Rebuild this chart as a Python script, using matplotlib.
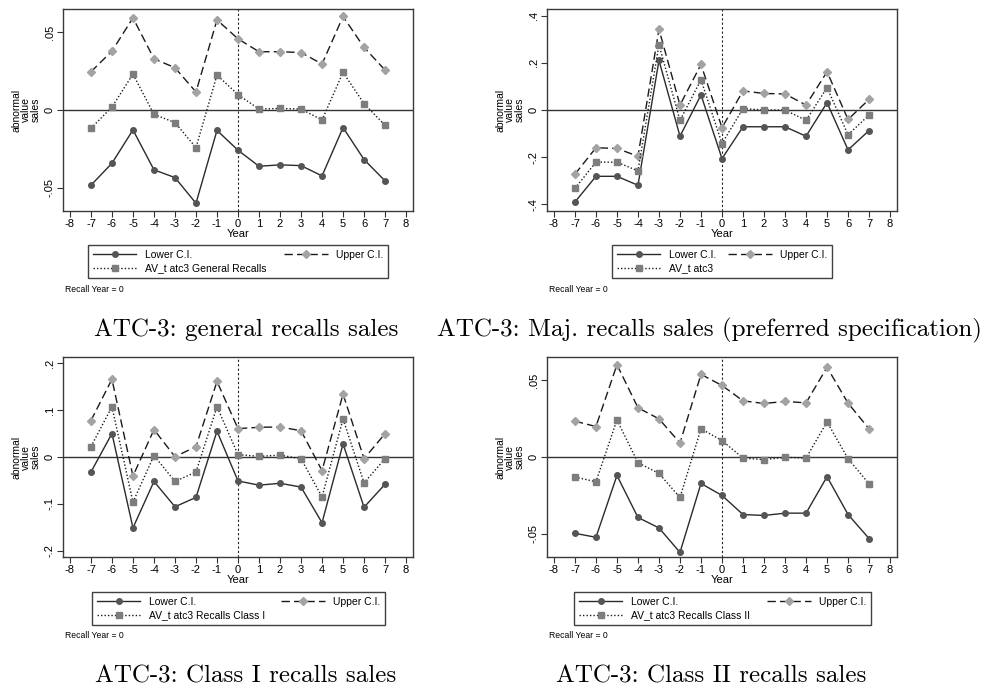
import matplotlib
matplotlib.use('Agg')
import matplotlib.pyplot as plt

# Event-time axis
years = list(range(-7, 8))

# ATC-3 general recalls
gen_lower = [-0.0484, -0.0343, -0.0128, -0.0385, -0.0435, -0.0600, -0.0131, -0.0259,
             -0.0362, -0.0353, -0.0358, -0.0424, -0.0113, -0.0319, -0.0456]
gen_upper = [0.0246, 0.0379, 0.0593, 0.0330, 0.0272, 0.0116, 0.0580, 0.0458,
             0.0375, 0.0375, 0.0370, 0.0296, 0.0602, 0.0403, 0.0257]
gen_av = [-0.0118, 0.0019, 0.0231, -0.0028, -0.0081, -0.0242, 0.0225, 0.0099,
          0.0006, 0.0010, 0.0006, -0.0064, 0.0242, 0.0041, -0.0099]

# ATC-3 major recalls
maj_lower = [-0.390, -0.281, -0.281, -0.319, 0.210, -0.111, 0.064, -0.206,
             -0.071, -0.071, -0.071, -0.111, 0.031, -0.169, -0.087]
maj_upper = [-0.272, -0.160, -0.163, -0.196, 0.342, 0.021, 0.193, -0.075,
             0.081, 0.070, 0.068, 0.021, 0.162, -0.040, 0.045]
maj_av = [-0.332, -0.221, -0.221, -0.258, 0.277, -0.044, 0.128, -0.142,
          0.006, 0.000, 0.000, -0.044, 0.095, -0.105, -0.021]

# ATC-3 class I recalls
c1_lower = [-0.032, 0.050, -0.151, -0.052, -0.106, -0.086, 0.055, -0.051,
            -0.060, -0.056, -0.064, -0.140, 0.028, -0.107, -0.058]
c1_upper = [0.0775, 0.1656, -0.0405, 0.0583, 0.0007, 0.022, 0.161, 0.0604,
            0.0633, 0.064, 0.056, -0.029, 0.134, -0.0036, 0.0498]
c1_av = [0.022, 0.107, -0.096, 0.003, -0.052, -0.032, 0.107, 0.005,
         0.0014, 0.004, -0.0036, -0.085, 0.081, -0.055, -0.0036]

# ATC-3 class II recalls
c2_lower = [-0.0496, -0.0522, -0.0120, -0.0393, -0.0461, -0.0620, -0.0172, -0.0250,
            -0.0374, -0.0380, -0.0365, -0.0365, -0.0128, -0.0374, -0.0530]
c2_upper = [0.0233, 0.0198, 0.0600, 0.0320, 0.0248, 0.0091, 0.0537, 0.0465,
            0.0365, 0.0348, 0.0361, 0.0352, 0.0583, 0.0350, 0.0183]
c2_av = [-0.0130, -0.0161, 0.0241, -0.0037, -0.0107, -0.0263, 0.0183, 0.0107,
         -0.0007, -0.0017, -0.0002, -0.0007, 0.0228, -0.0011, -0.0174]

x_ticks = list(range(-8, 9))
small_ticks = [-0.05, 0, 0.05]
small_labels = ['-.05', '0', '.05']
maj_ticks = [-0.4, -0.2, 0, 0.2, 0.4]
maj_labels = ['-.4', '-.2', '0', '.2', '.4']
c1_ticks = [-0.2, -0.1, 0, 0.1, 0.2]
c1_labels = ['-.2', '-.1', '0', '.1', '.2']

plt.rcParams['font.family'] = ['Liberation Sans', 'DejaVu Sans']

W, H = 986, 688
fig = plt.figure(figsize=(W / 100, H / 100), dpi=100)

def fig_rect(x0, y0, x1, y1):
    # pixel box (top-left origin) -> figure fraction rect
    return [x0 / W, 1 - y1 / H, (x1 - x0) / W, (y1 - y0) / H]

panels = [
    dict(box=(63, 9, 413, 211), leg=(88, 245, 388), lo=gen_lower, up=gen_upper, av=gen_av,
         ylim=0.065, ticks=small_ticks, labels=small_labels,
         name='AV_t atc3 General Recalls', cap='ATC-3: general recalls sales', capx=246, capy=330),
    dict(box=(547, 9, 897, 211), leg=(612, 245, 832), lo=maj_lower, up=maj_upper, av=maj_av,
         ylim=0.428, ticks=maj_ticks, labels=maj_labels,
         name='AV_t atc3', cap='ATC-3: Maj. recalls sales (preferred specification)', capx=709, capy=330),
    dict(box=(63, 357, 413, 557), leg=(92, 592, 385), lo=c1_lower, up=c1_upper, av=c1_av,
         ylim=0.213, ticks=c1_ticks, labels=c1_labels,
         name='AV_t atc3 Recalls Class I', cap='ATC-3: Class I recalls sales', capx=246, capy=676),
    dict(box=(547, 357, 897, 557), leg=(574, 592, 871), lo=c2_lower, up=c2_upper, av=c2_av,
         ylim=0.065, ticks=small_ticks, labels=small_labels,
         name='AV_t atc3 Recalls Class II', cap='ATC-3: Class II recalls sales', capx=711, capy=676),
]

frame_col = '#3a3a3a'
for p in panels:
    x0, y0, x1, y1 = p['box']
    ax = fig.add_axes(fig_rect(*p['box']))
    ax.axhline(0, color='#333333', lw=1.0, zorder=1)
    ax.axvline(0, color='#222222', lw=0.8, ls=(0, (2, 2)), zorder=1)
    l1, = ax.plot(years, p['lo'], color='#2b2b2b', lw=1.0, marker='o', ms=4,
                  mfc='#555555', mec='#555555', label='Lower C.I.', zorder=3)
    l2, = ax.plot(years, p['up'], color='#1a1a1a', lw=1.0, ls=(0, (6, 3)), marker='D', ms=4,
                  mfc='#a3a3a3', mec='#a3a3a3', label='Upper C.I.', zorder=3)
    l3, = ax.plot(years, p['av'], color='#1a1a1a', lw=1.0, ls=(0, (1, 1.5)), marker='s', ms=4,
                  mfc='#7d7d7d', mec='#7d7d7d', label=p['name'], zorder=3)
    ax.set_xlim(-8.33, 8.33)
    ax.set_ylim(-p['ylim'], p['ylim'])
    ax.set_xticks(x_ticks)
    ax.set_xticklabels([str(t) for t in x_ticks], fontsize=8)
    ax.set_yticks(p['ticks'])
    ax.set_yticklabels(p['labels'], fontsize=8, rotation=90, va='center')
    ax.tick_params(direction='out', length=4, width=0.8, color='#333333', pad=2)
    for s in ax.spines.values():
        s.set_color(frame_col)
        s.set_linewidth(1.0)
    ax.set_xlabel('Year', fontsize=8, labelpad=0)
    ax.set_ylabel('abnormal\nvalue\nsales', fontsize=7.5, linespacing=0.95, labelpad=3)

    # legend box below the axes
    lx0, ly0, lx1 = p['leg']
    leg = ax.legend(handles=[l1, l3, l2], ncol=2, mode='expand', loc='upper left',
                    bbox_to_anchor=(lx0 / W, 1 - ly0 / H, (lx1 - lx0) / W, 0),
                    bbox_transform=fig.transFigure, fontsize=7.5, frameon=True,
                    fancybox=False, edgecolor='#111111', handlelength=4.2,
                    handletextpad=0.8, borderpad=0.45, labelspacing=0.35,
                    borderaxespad=0, columnspacing=1.0, markerscale=1.0)
    leg.get_frame().set_linewidth(1.0)

    fig.text(x0 / W + 2 / W, 1 - (ly0 + 44) / H, 'Recall Year = 0', fontsize=6.2,
             va='center', ha='left')
    fig.text(p['capx'] / W, 1 - p['capy'] / H, p['cap'],
             family='cmr10', fontsize=18, ha='center', va='center')

fig.savefig('out.png', dpi=100)
